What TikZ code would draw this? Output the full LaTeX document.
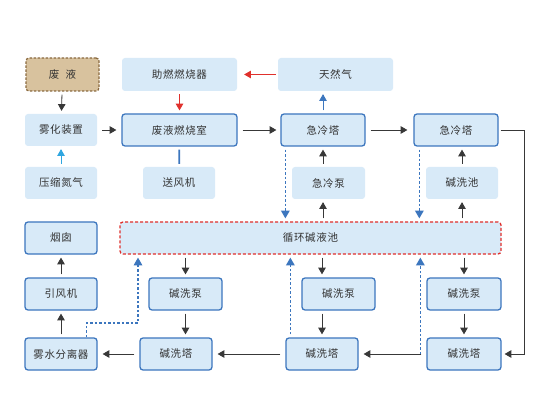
\documentclass[tikz,border=0pt]{standalone}
\usepackage{fontspec}
\setmainfont{Noto Sans CJK SC}[LetterSpace=6]
\usepackage{tikz}
\usetikzlibrary{arrows, shapes, positioning}
\definecolor{boxfill}{HTML}{D8EAF8}
\definecolor{edgeblue}{HTML}{3C76BE}
\definecolor{poolred}{HTML}{E0302C}
\definecolor{wastefill}{HTML}{D8C29E}
\definecolor{wastebrown}{HTML}{8A6A40}
\definecolor{arrowgray}{HTML}{383838}
\definecolor{gasblue}{HTML}{2FA6E0}
\definecolor{txtgray}{HTML}{333333}

\begin{document}
\begin{tikzpicture}[x=1pt, y=-1pt,
	every node/.style={font=\fontsize{10.5}{12}\selectfont, text=txtgray},
	lite/.style={fill=boxfill, rounded corners=3pt, minimum width=72pt, minimum height=32pt, inner sep=0pt},
	main/.style={lite, draw=edgeblue, line width=1.3pt},
	pool/.style={lite, draw=poolred, line width=1.3pt, dash pattern=on 3pt off 2pt},
	waste/.style={lite, fill=wastefill, draw=wastebrown, line width=1.2pt, dash pattern=on 2.5pt off 1.5pt},
	flow/.style={-triangle 60, line width=0.8pt, draw=arrowgray, shorten >=3pt, shorten <=3pt},
	dashflow/.style={flow, draw=edgeblue, line width=1.1pt, dash pattern=on 2.5pt off 2pt}]
	\fill [white] (0,0) rectangle (550,412);
	\useasboundingbox (0,0) rectangle (550,412);
	\node [waste, minimum width=73pt, minimum height=33pt] (Waste) at (62.5,74.5) {废\hspace{0.6em}液};
	\node [lite, minimum width=115pt, minimum height=33pt] (Burner) at (179.5,74.5) {助燃燃烧器};
	\node [lite, minimum width=115pt, minimum height=33pt] (Gas) at (335.5,74.5) {天然气};
	\node [lite] (Atomizer) at (61,130) {雾化装置};
	\node [main, minimum width=115pt] (Chamber) at (179.5,130) {废液燃烧室};
	\node [main, minimum width=84pt] (Quench1) at (323,130) {急冷塔};
	\node [main, minimum width=84pt] (Quench2) at (456,130) {急冷塔};
	\node [lite] (Nitrogen) at (61,183) {压缩氮气};
	\node [lite] (Blower) at (179,183) {送风机};
	\node [lite, minimum width=73pt] (Quench Pump) at (328.5,183) {急冷泵};
	\node [lite] (Alkali Tank) at (462,183) {碱洗池};
	\node [main] (Chimney) at (61,238) {烟囱};
	\node [pool, minimum width=381pt] (Pool) at (310.5,238) {循环碱液池};
	\node [main] (Fan) at (61,294) {引风机};
	\node [main, minimum width=73pt] (Pump1) at (185.5,294) {碱洗泵};
	\node [main, minimum width=73pt] (Pump2) at (338.5,294) {碱洗泵};
	\node [main, minimum width=74pt] (Pump3) at (464,294) {碱洗泵};
	\node [main] (Separator) at (61,354) {雾水分离器};
	\node [main] (Tower1) at (176,354) {碱洗塔};
	\node [main] (Tower2) at (322,354) {碱洗塔};
	\node [main, minimum width=74pt] (Tower3) at (464,354) {碱洗塔};
	\coordinate (Bend) at (138,323);
	\draw [flow] (Waste) -- (Atomizer);
	\draw [flow, draw=gasblue] (Nitrogen) -- (Atomizer);
	\draw [flow, shorten >=5pt, shorten <=5pt] (Atomizer) -- (Chamber);
	\draw [flow, draw=poolred] (Burner) -- (Chamber);
	\draw [flow, draw=poolred, shorten >=7pt, shorten <=2pt] (Gas) -- (Burner);
	\draw [line width=1.8pt, draw=edgeblue, shorten >=3pt, shorten <=3pt] (Blower) -- (Chamber);
	\draw [flow, draw=edgeblue] (Quench1) -- (Quench1 |- Gas.south);
	\draw [flow, shorten >=4pt, shorten <=5pt] (Chamber) -- (Quench1);
	\draw [flow, shorten >=6pt, shorten <=5pt] (Quench1) -- (Quench2);
	\draw [flow, shorten <=2pt] (Quench2.east) -- ++(26,0) |- (Tower3.east);
	\draw [flow] (Quench Pump.north -| Quench1) -- (Quench1);
	\draw [flow] (Pool.north -| Quench1) -- (Quench Pump.south -| Quench1);
	\draw [flow] (Alkali Tank) -- (Alkali Tank |- Quench2.south);
	\draw [flow] (Pool.north -| Alkali Tank) -- (Alkali Tank);
	\draw [dashflow] ([xshift=5pt]Quench1.south west) -- ([xshift=5pt]Quench1.south west |- Pool.north);
	\draw [dashflow] ([xshift=6pt]Quench2.south west) -- ([xshift=6pt]Quench2.south west |- Pool.north);
	\draw [flow] (Pool.south -| Pump1) -- (Pump1);
	\draw [flow] (Pump1) -- (Pump1 |- Tower1.north);
	\draw [flow] (Pool.south -| Tower2) -- (Tower2 |- Pump2.north);
	\draw [flow] (Pump2.south -| Tower2) -- (Tower2);
	\draw [flow] (Pool.south -| Pump3) -- (Pump3);
	\draw [flow] (Pump3) -- (Tower3);
	\draw [dashflow] ([xshift=5pt]Tower2.north west) -- ([xshift=5pt]Tower2.north west |- Pool.south);
	\draw [dashflow, shorten <=0pt] ([xshift=-6pt]Tower3.west) -- ([xshift=-6pt]Tower3.west |- Pool.south);
	\draw [dashflow, shorten <=0pt] ([xshift=-11pt]Separator.north east) |- (Bend) -- (Bend |- Pool.south);
	\draw [flow, shorten >=5pt, shorten <=5pt] (Tower3) -- (Tower2);
	\draw [flow, shorten >=5pt, shorten <=5pt] (Tower2) -- (Tower1);
	\draw [flow, shorten >=5pt, shorten <=5pt] (Tower1) -- (Separator);
	\draw [flow] (Separator) -- (Fan);
	\draw [flow] (Fan) -- (Chimney);
\end{tikzpicture}
\end{document}
